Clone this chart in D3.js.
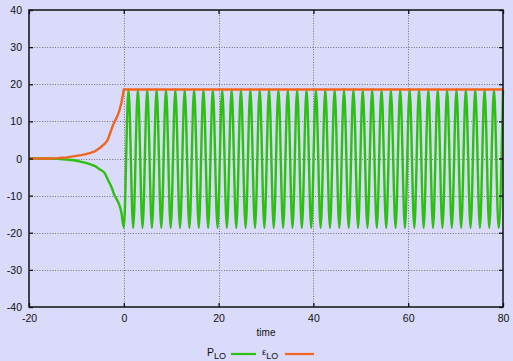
<!DOCTYPE html>
<html>
<head>
<meta charset="utf-8">
<script src="https://cdn.jsdelivr.net/npm/d3@7"></script>
<style>
  html, body { margin: 0; padding: 0; background: #DADAFA; }
  svg { display: block; font-family: "Liberation Sans", Arial, sans-serif; }
</style>
</head>
<body>
<svg id="chart" width="513" height="361"></svg>
<script>
// Ramp-up before t = 0 (both quantities grow from rest)
const rampTime   = [-20, -18, -16, -14, -13, -12, -11, -10, -9, -8, -7, -6, -5, -4, -3.4, -3, -2.5, -2, -1.5, -1, -0.5, 0];
const rampP      = [0, 0, 0, -0.1, -0.2, -0.3, -0.4, -0.6, -0.9, -1.2, -1.6, -2.1, -3.0, -4.0, -5.6, -6.6, -8.0, -9.8, -11.0, -12.3, -14.6, -18.6];
const rampEps    = [0, 0, 0, 0.1, 0.2, 0.3, 0.5, 0.7, 0.9, 1.2, 1.5, 2.0, 2.9, 4.0, 5.0, 6.4, 8.2, 9.8, 11.0, 12.6, 15.0, 18.6];

// Oscillation of P_LO after t = 0: successive extrema (trough, crest, ...)
const oscTime = [0, 0.99, 1.98, 2.97, 3.95, 4.94, 5.93, 6.92, 7.91, 8.90,
  9.89, 10.87, 11.86, 12.85, 13.84, 14.83, 15.82, 16.80, 17.79, 18.78,
  19.77, 20.76, 21.75, 22.74, 23.72, 24.71, 25.70, 26.69, 27.68, 28.67,
  29.66, 30.64, 31.63, 32.62, 33.61, 34.60, 35.59, 36.57, 37.56, 38.55,
  39.54, 40.53, 41.52, 42.51, 43.49, 44.48, 45.47, 46.46, 47.45, 48.44,
  49.43, 50.41, 51.40, 52.39, 53.38, 54.37, 55.36, 56.34, 57.33, 58.32,
  59.31, 60.30, 61.29, 62.28, 63.26, 64.25, 65.24, 66.23, 67.22, 68.21,
  69.20, 70.18, 71.17, 72.16, 73.15, 74.14, 75.13, 76.11, 77.10, 78.09,
  79.08, 80];
const oscP = [-18.6, 18.6, -18.7, 18.6, -18.7, 18.6, -18.7, 18.6, -18.7, 18.6,
  -18.7, 18.6, -18.7, 18.6, -18.7, 18.6, -18.7, 18.6, -18.7, 18.6,
  -18.7, 18.6, -18.7, 18.6, -18.7, 18.6, -18.7, 18.6, -18.7, 18.6,
  -18.7, 18.6, -18.7, 18.6, -18.7, 18.6, -18.7, 18.6, -18.7, 18.6,
  -18.7, 18.6, -18.7, 18.6, -18.7, 18.6, -18.7, 18.6, -18.7, 18.6,
  -18.7, 18.6, -18.7, 18.6, -18.7, 18.6, -18.7, 18.6, -18.7, 18.6,
  -18.7, 18.6, -18.7, 18.6, -18.7, 18.6, -18.7, 18.6, -18.7, 18.6,
  -18.7, 18.6, -18.7, 18.6, -18.7, 18.6, -18.7, 18.6, -18.7, 18.6,
  -18.7, 18.4];

// ε_LO stays saturated after t = 0
const flatTime = [0, 80];
const flatEps  = [18.6, 18.6];

const xTicks = [-20, 0, 20, 40, 60, 80];
const yTicks = [-40, -30, -20, -10, 0, 10, 20, 30, 40];

const seriesNames = ["P", "ε"];
const seriesColors = ["#2CC10E", "#F2651F"];

const W = 513, H = 361;
const plot = { left: 29, right: 503, top: 10, bottom: 307 };

const svg = d3.select("#chart");
svg.append("rect").attr("width", W).attr("height", H).attr("fill", "#DADAFA");

const x = d3.scaleLinear().domain([-20, 80]).range([plot.left, plot.right]);
const y = d3.scaleLinear().domain([-40, 40]).range([plot.bottom, plot.top]);

// integer labels with a plain hyphen for negatives
const fmt = d => String(d);

// dotted grid
const grid = svg.append("g").attr("stroke", "#70707e").attr("stroke-width", 1)
  .attr("stroke-dasharray", "1,1.6").attr("fill", "none");
xTicks.filter(t => t > -20 && t < 80).forEach(t => {
  grid.append("line").attr("x1", Math.round(x(t)) + 0.5).attr("x2", Math.round(x(t)) + 0.5)
    .attr("y1", plot.top).attr("y2", plot.bottom);
});
yTicks.filter(t => t > -40 && t < 40).forEach(t => {
  grid.append("line").attr("y1", Math.round(y(t)) + 0.5).attr("y2", Math.round(y(t)) + 0.5)
    .attr("x1", plot.left).attr("x2", plot.right);
});

// curves
const line = d3.line().x(d => x(d[0])).y(d => y(d[1])).curve(d3.curveMonotoneX);
const pData = rampTime.map((t, i) => [t, rampP[i]])
  .concat(oscTime.slice(1).map((t, i) => [t, oscP[i + 1]]));
const eData = rampTime.map((t, i) => [t, rampEps[i]])
  .concat(flatTime.slice(1).map((t, i) => [t, flatEps[i + 1]]));

const plotArea = svg.append("g");
plotArea.append("path").datum(pData).attr("d", line)
  .attr("fill", "none").attr("stroke", seriesColors[0]).attr("stroke-width", 2.4)
  .attr("stroke-linejoin", "round");
plotArea.append("path").datum(eData).attr("d", d3.line().x(d => x(d[0])).y(d => y(d[1])))
  .attr("fill", "none").attr("stroke", seriesColors[1]).attr("stroke-width", 2.4)
  .attr("stroke-linejoin", "round");

// axes with inward ticks on all four sides
const fontSize = 10.5;
const axB = svg.append("g").attr("transform", `translate(0,${plot.bottom})`)
  .call(d3.axisBottom(x).tickValues(xTicks).tickSize(-4).tickPadding(8).tickFormat(fmt));
const axT = svg.append("g").attr("transform", `translate(0,${plot.top})`)
  .call(d3.axisTop(x).tickValues(xTicks).tickSize(-4).tickFormat(""));
const axL = svg.append("g").attr("transform", `translate(${plot.left},0)`)
  .call(d3.axisLeft(y).tickValues(yTicks).tickSize(-4).tickPadding(7).tickFormat(fmt));
const axR = svg.append("g").attr("transform", `translate(${plot.right},0)`)
  .call(d3.axisRight(y).tickValues(yTicks).tickSize(-4).tickFormat(""));
[axB, axT, axL, axR].forEach(a => {
  a.select(".domain").remove();
  a.selectAll(".tick line").attr("stroke", "#111").attr("stroke-width", 1.3);
  a.selectAll("text").attr("font-size", fontSize).attr("fill", "#111")
    .attr("font-family", "Liberation Sans, Arial, sans-serif");
});
axL.selectAll(".tick text").attr("dy", "0.34em");

// frame
svg.append("rect").attr("x", plot.left).attr("y", plot.top)
  .attr("width", plot.right - plot.left).attr("height", plot.bottom - plot.top)
  .attr("fill", "none").attr("stroke", "#111").attr("stroke-width", 1.5);

// axis title
svg.append("text").attr("x", x(30)).attr("y", 336).attr("text-anchor", "middle")
  .attr("font-size", 10).attr("fill", "#111").text("time");

// legend
const legend = svg.append("g").attr("font-size", 10.5).attr("fill", "#111");
const items = [
  { name: seriesNames[0], color: seriesColors[0], tx: 207, lx1: 231, lx2: 256 },
  { name: seriesNames[1], color: seriesColors[1], tx: 262, lx1: 285, lx2: 314 }
];
items.forEach(it => {
  const t = legend.append("text").attr("x", it.tx).attr("y", 356);
  t.append("tspan").text(it.name).attr("font-size", it.name === "ε" ? 9.5 : 10.5)
    .attr("dy", it.name === "ε" ? -1 : 0);
  t.append("tspan").text("LO").attr("font-size", 9).attr("dy", it.name === "ε" ? 4 : 3);
  legend.append("line").attr("x1", it.lx1).attr("x2", it.lx2).attr("y1", 354).attr("y2", 354)
    .attr("stroke", it.color).attr("stroke-width", 2.2);
});
</script>
</body>
</html>
